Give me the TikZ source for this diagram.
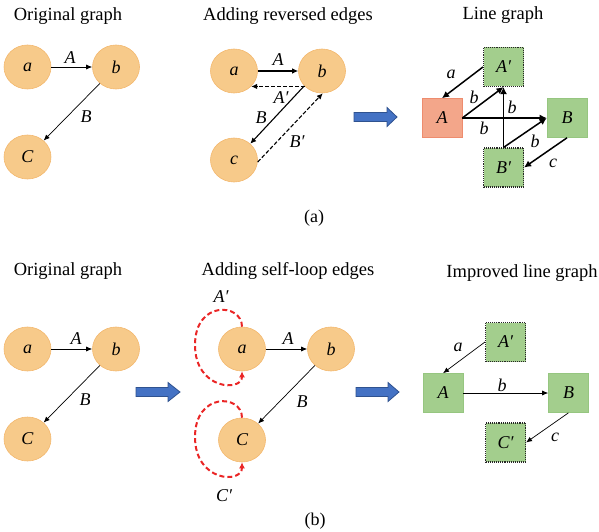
\documentclass[tikz,border=0pt]{standalone}
\usepackage{fontspec}
\setmainfont{Liberation Serif}
\usetikzlibrary{arrows.meta,shapes.geometric}
\definecolor{nodeorange}{RGB}{247,202,138}
\definecolor{nodeorangeedge}{RGB}{243,184,110}
\definecolor{boxgreen}{RGB}{163,206,141}
\definecolor{boxgreenedge}{RGB}{150,198,128}
\definecolor{boxsalmon}{RGB}{243,166,138}
\definecolor{boxsalmonedge}{RGB}{238,140,110}
\definecolor{flowblue}{RGB}{68,114,196}
\definecolor{flowblueedge}{RGB}{47,82,143}
\definecolor{loopred}{RGB}{234,38,38}
\begin{document}
\begin{tikzpicture}[x=1pt,y=-1pt,
  vertex/.style={ellipse, fill=nodeorange, draw=nodeorangeedge, line width=0.6pt,
    minimum width=47pt, minimum height=44pt, inner sep=0pt,
    font=\fontsize{18}{20}\selectfont\itshape},
  ebox/.style={rectangle, minimum width=40pt, minimum height=39pt, inner sep=0pt,
    font=\fontsize{18}{20}\selectfont\itshape},
  greenbox/.style={ebox, fill=boxgreen, draw=boxgreenedge, line width=0.6pt},
  dotbox/.style={ebox, fill=boxgreen, draw=black!85, densely dotted, line width=1.1pt},
  salmonbox/.style={ebox, fill=boxsalmon, draw=boxsalmonedge, line width=0.6pt},
  thinedge/.style={-{Latex[length=6pt,width=5pt]}, line width=0.7pt},
  midedge/.style={-{Latex[length=6pt,width=5.5pt]}, line width=1.1pt},
  dashedge/.style={midedge, dash pattern=on 4pt off 2pt},
  boldedge/.style={-{Latex[length=7pt,width=7pt]}, line width=1.5pt},
  loopedge/.style={-{Latex[length=6pt,width=6pt]}, draw=loopred, line width=2pt,
    dash pattern=on 5pt off 3pt},
  lbl/.style={font=\fontsize{18}{20}\selectfont\itshape, inner sep=0pt},
  title/.style={anchor=base, font=\fontsize{18.5}{20}\selectfont, inner sep=0pt},
  bigarrow/.style={fill=flowblue, draw=flowblueedge, line width=0.8pt}]
\useasboundingbox (0,0) rectangle (599,532);

% ---------- (a) original graph ----------
\node[title] (t1) at (68,21) {Original graph};
\node[vertex] (a1) at (27.5,67) {a};
\node[vertex] (b1) at (116,67) {b};
\node[vertex] (c1) at (27.5,157) {C};
\draw[thinedge] (a1) -- (b1);
\draw[thinedge] (b1) -- (c1);
\node[lbl] (la1) at (70,58) {A};
\node[lbl] (lb1) at (86,117) {B};

% ---------- (a) adding reversed edges ----------
\node[title] (t2) at (288,21) {Adding reversed edges};
\node[vertex] (a2) at (234,71) {a};
\node[vertex] (b2) at (322,71) {b};
\node[vertex] (c2) at (234,160) {c};
\draw[midedge] (a2) -- (b2);
\draw[dashedge] (b2.-138) -- (a2.-42);
\draw[midedge] (b2.-140) -- (c2.45);
\draw[dashedge] (c2.-5) -- (b2.-88);
\node[lbl] (la2) at (278,60) {A};
\node[lbl] (la2p) at (281,98) {A′};
\node[lbl] (lb2) at (261,118) {B};
\node[lbl] (lb2p) at (297,142) {B′};

% block arrow
\draw[bigarrow] (354,112.5) -- (387,112.5) -- (387,107.5) -- (397,117) -- (387,126.5)
  -- (387,121.5) -- (354,121.5) -- cycle;

% ---------- (a) line graph ----------
\node[title] (t3) at (503,20) {Line graph};
\node[dotbox] (Ap3) at (503.5,67) {A′};
\node[salmonbox] (A3) at (442,118) {A};
\node[greenbox] (B3) at (567,118) {B};
\node[dotbox] (Bp3) at (503.5,167.5) {B′};
\draw[boldedge] (Ap3.west) -- (A3.north);
\draw[boldedge] (A3.east) -- (Ap3.south);
\draw[boldedge] (A3.east) -- (B3.west);
\draw[boldedge] (Bp3.north) -- (Ap3.south);
\draw[boldedge] (Bp3.north) -- (B3.west);
\draw[boldedge] (B3.south) -- (Bp3.east);
\node[lbl] (l3a) at (451,74) {a};
\node[lbl] (l3b1) at (474,97) {b};
\node[lbl] (l3b2) at (484,128) {b};
\node[lbl] (l3b3) at (512,107) {b};
\node[lbl] (l3b4) at (535,141) {b};
\node[lbl] (l3c) at (553,163) {c};

\node[inner sep=0pt, anchor=base, font=\fontsize{18}{20}\selectfont] (capa) at (314,222) {(a)};

% ---------- (b) original graph ----------
\node[title] (t4) at (68,275) {Original graph};
\node[vertex] (a4) at (27.5,349) {a};
\node[vertex] (b4) at (116,349) {b};
\node[vertex] (c4) at (27.5,439) {C};
\draw[thinedge] (a4) -- (b4);
\draw[thinedge] (b4) -- (c4);
\node[lbl] (la4) at (76,339) {A};
\node[lbl] (lb4) at (85,400) {B};

\draw[bigarrow] (136,387.5) -- (168,387.5) -- (168,382.5) -- (180,392) -- (168,401.5)
  -- (168,396.5) -- (136,396.5) -- cycle;

% ---------- (b) adding self-loop edges ----------
\node[title] (t5) at (288,275) {Adding self-loop edges};
\node[vertex] (a5) at (242,349) {a};
\node[vertex] (b5) at (331,349) {b};
\node[vertex] (c5) at (242,440) {C};
\draw[thinedge] (a5) -- (b5);
\draw[thinedge] (b5) -- (c5);
\draw[loopedge] (a5.north) .. controls (242,303) and (195,300) .. (195,345)
  .. controls (195,390) and (242,392) .. (a5.south);
\draw[loopedge] (c5.north) .. controls (242,394) and (195,392) .. (195,437)
  .. controls (195,482) and (242,484) .. (c5.south);
\node[lbl] (la5) at (288,339) {A};
\node[lbl] (lb5) at (302,402) {B};
\node[lbl] (la5p) at (221,297) {A′};
\node[lbl] (lc5p) at (224,496) {C′};

\draw[bigarrow] (356,387.5) -- (388,387.5) -- (388,382.5) -- (399,392) -- (388,401.5)
  -- (388,396.5) -- (356,396.5) -- cycle;

% ---------- (b) improved line graph ----------
\node[title] (t6) at (522,277) {Improved line graph};
\node[dotbox] (Ap6) at (505.5,342) {A′};
\node[greenbox] (A6) at (443,393) {A};
\node[greenbox] (B6) at (568.5,393) {B};
\node[dotbox] (Cp6) at (505.5,442.5) {C′};
\draw[thinedge] (Ap6.west) -- (A6.north);
\draw[thinedge] (A6.east) -- (B6.west);
\draw[thinedge] (B6.south) -- (Cp6.east);
\node[lbl] (l6a) at (458,347) {a};
\node[lbl] (l6b) at (502,385) {b};
\node[lbl] (l6c) at (555,437) {c};

\node[inner sep=0pt, anchor=base, font=\fontsize{18}{20}\selectfont] (capb) at (315,525) {(b)};
\end{tikzpicture}
\end{document}
